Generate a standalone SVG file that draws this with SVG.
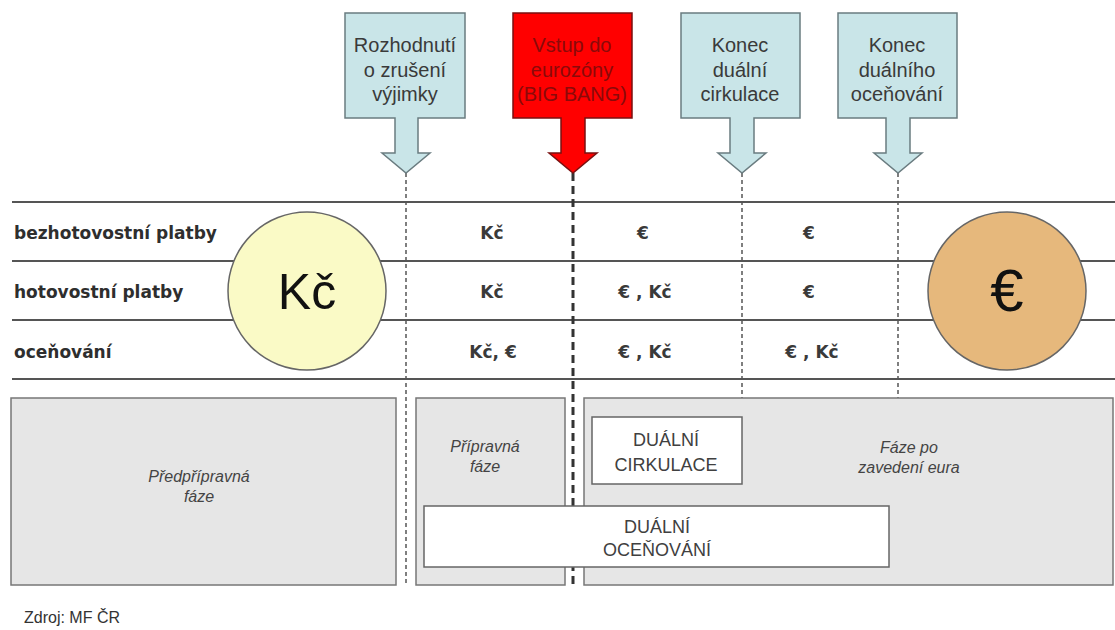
<svg xmlns="http://www.w3.org/2000/svg" width="1115" height="630" viewBox="0 0 1115 630">
<style>
.callout{fill:#c9e5e8;stroke:#6a7c80;stroke-width:1.5}
.red{fill:#ff0000;stroke:#7a1010;stroke-width:1.5}
.ct{font-family:"Liberation Sans",Arial,sans-serif;font-size:20px;fill:#3a3a3a;text-anchor:middle}
.rt{font-family:"Liberation Sans",Arial,sans-serif;font-size:20px;fill:#8a0a0a;text-anchor:middle}
.row{font-family:"DejaVu Sans",Verdana,sans-serif;font-weight:bold;font-size:17px;fill:#2e2e2e}
.cell{font-family:"DejaVu Sans",Verdana,sans-serif;font-weight:bold;font-size:17px;fill:#3a3a3a;text-anchor:middle}
.hl{stroke:#555;stroke-width:2}
.dl{stroke:#555;stroke-width:1.5;stroke-dasharray:4 3;fill:none}
.dk{stroke:#333;stroke-width:3;stroke-dasharray:8 5;fill:none}
.phase{fill:#e6e6e6;stroke:#777;stroke-width:1.5}
.wbox{fill:#fff;stroke:#666;stroke-width:1.5}
.it{font-family:"Liberation Sans",Arial,sans-serif;font-style:italic;font-size:16px;fill:#444;text-anchor:middle}
.bt{font-family:"Liberation Sans",Arial,sans-serif;font-size:18px;fill:#404040;text-anchor:middle}
</style>

<g id="connectors">
<line class="hl" x1="12" y1="202" x2="1115" y2="202"/>
<line class="hl" x1="12" y1="261" x2="1115" y2="261"/>
<line class="hl" x1="12" y1="320" x2="1115" y2="320"/>
<line class="hl" x1="12" y1="379" x2="1115" y2="379"/>
<line class="dl" x1="406" y1="173" x2="406" y2="585"/>
<line class="dk" x1="573" y1="173" x2="573" y2="585"/>
<line class="dl" x1="742" y1="173" x2="742" y2="398"/>
<line class="dl" x1="898" y1="173" x2="898" y2="398"/>
</g>

<g id="callout-rozhodnuti">
<path class="callout" d="M345,13 H465 V118 H418 V153 H430 L406,173 L382,153 H395 V118 H345 Z"/>
<text class="ct" x="405" y="52">Rozhodnutí</text>
<text class="ct" x="405" y="77">o zrušení</text>
<text class="ct" x="405" y="101">výjimky</text>
</g>

<g id="callout-vstup">
<path class="red" d="M513,13 H632 V118 H585 V153 H597 L573,173 L549,153 H561 V118 H513 Z"/>
<text class="rt" x="572" y="52">Vstup do</text>
<text class="rt" x="572" y="77">eurozóny</text>
<text class="rt" x="572" y="101">(BIG BANG)</text>
</g>

<g id="callout-konec-cirkulace">
<path class="callout" d="M681,13 H800 V118 H754 V153 H766 L742,173 L718,153 H730 V118 H681 Z"/>
<text class="ct" x="740" y="52">Konec</text>
<text class="ct" x="740" y="77">duální</text>
<text class="ct" x="740" y="101">cirkulace</text>
</g>

<g id="callout-konec-ocenovani">
<path class="callout" d="M838,13 H957 V118 H910 V153 H922 L898,173 L874,153 H886 V118 H838 Z"/>
<text class="ct" x="897" y="52">Konec</text>
<text class="ct" x="897" y="77">duálního</text>
<text class="ct" x="897" y="101">oceňování</text>
</g>

<g id="row-labels">
<text class="row" x="14" y="239">bezhotovostní platby</text>
<text class="row" x="14" y="298">hotovostní platby</text>
<text class="row" x="14" y="358">oceňování</text>
</g>

<g id="circle-kc">
<circle cx="307" cy="291" r="79" fill="#fafac6" stroke="#666" stroke-width="1.5"/>
<text x="307" y="309" font-family="'Liberation Sans',Arial,sans-serif" font-size="50" fill="#111" text-anchor="middle">Kč</text>
</g>

<g id="circle-euro">
<circle cx="1007" cy="291" r="79" fill="#e6b87c" stroke="#666" stroke-width="1.5"/>
<text x="1007" y="311" font-family="'Liberation Sans',Arial,sans-serif" font-size="60" fill="#111" text-anchor="middle">€</text>
</g>

<g id="cells">
<text class="cell" x="492" y="239">Kč</text>
<text class="cell" x="643" y="239">€</text>
<text class="cell" x="809" y="239">€</text>
<text class="cell" x="492" y="298">Kč</text>
<text class="cell" x="645" y="298">€ , Kč</text>
<text class="cell" x="809" y="298">€</text>
<text class="cell" x="493" y="358">Kč, €</text>
<text class="cell" x="645" y="358">€ , Kč</text>
<text class="cell" x="812" y="358">€ , Kč</text>
</g>

<g id="phase-predpripravna">
<rect class="phase" x="11" y="398" width="385" height="187"/>
<text class="it" x="199" y="482">Předpřípravná</text>
<text class="it" x="199" y="502">fáze</text>
</g>

<g id="phase-pripravna">
<rect class="phase" x="416" y="398" width="149" height="187"/>
<text class="it" x="485" y="452">Přípravná</text>
<text class="it" x="485" y="472">fáze</text>
</g>

<g id="phase-po-zavedeni">
<rect class="phase" x="584" y="398" width="529" height="187"/>
<text class="it" x="909" y="453">Fáze po</text>
<text class="it" x="909" y="473">zavedení eura</text>
</g>

<g id="dualni-cirkulace">
<rect class="wbox" x="592" y="417" width="150" height="67"/>
<text class="bt" x="666" y="446">DUÁLNÍ</text>
<text class="bt" x="666" y="471">CIRKULACE</text>
</g>

<g id="dualni-ocenovani">
<rect class="wbox" x="424" y="506" width="465" height="61"/>
<text class="bt" x="657" y="533">DUÁLNÍ</text>
<text class="bt" x="657" y="556">OCEŇOVÁNÍ</text>
</g>

<text x="24" y="623" font-family="'Liberation Sans',Arial,sans-serif" font-size="16" fill="#333">Zdroj: MF ČR</text>
</svg>
